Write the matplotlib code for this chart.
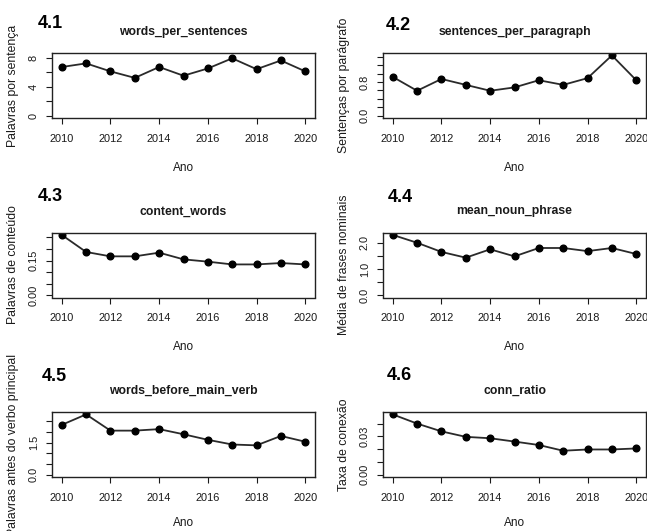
import matplotlib
matplotlib.use('Agg')
import matplotlib.pyplot as plt

plt.rcParams['font.family'] = ['Liberation Sans', 'DejaVu Sans']

years = [2010, 2011, 2012, 2013, 2014, 2015, 2016, 2017, 2018, 2019, 2020]

words_per_sentences = [6.7, 7.2, 6.1, 5.2, 6.7, 5.5, 6.5, 7.9, 6.4, 7.6, 6.1]
sentences_per_paragraph = [0.92, 0.59, 0.87, 0.73, 0.59, 0.67, 0.84, 0.73, 0.89, 1.43, 0.84]
content_words = [0.261, 0.187, 0.168, 0.168, 0.184, 0.155, 0.145, 0.133, 0.133, 0.139, 0.133]
mean_noun_phrase = [2.30, 2.00, 1.65, 1.43, 1.75, 1.48, 1.80, 1.80, 1.68, 1.80, 1.57]
words_before_main_verb = [2.33, 2.82, 2.06, 2.06, 2.13, 1.89, 1.63, 1.41, 1.37, 1.81, 1.54]
conn_ratio = [0.0472, 0.0400, 0.0339, 0.0296, 0.0285, 0.0259, 0.0232, 0.0187, 0.0197, 0.0197, 0.0205]

series = [words_per_sentences, sentences_per_paragraph, content_words,
          mean_noun_phrase, words_before_main_verb, conn_ratio]
titles = ['words_per_sentences', 'sentences_per_paragraph', 'content_words',
          'mean_noun_phrase', 'words_before_main_verb', 'conn_ratio']
numbers = ['4.1', '4.2', '4.3', '4.4', '4.5', '4.6']
ylabels = ['Palavras por sentença', 'Sentenças por parágrafo', 'Palavras de conteúdo',
           'Média de frases nominais', 'Palavras antes do verbo principal', 'Taxa de conexão']

# y ticks of each panel, and the ones R kept a label for
yticks = [[0, 2, 4, 6, 8],
          [0.0, 0.2, 0.4, 0.6, 0.8, 1.0, 1.2, 1.4],
          [0.0, 0.05, 0.10, 0.15, 0.20, 0.25],
          [0.0, 0.5, 1.0, 1.5, 2.0],
          [0.0, 0.5, 1.0, 1.5, 2.0, 2.5],
          [0.0, 0.01, 0.02, 0.03, 0.04]]
ylabeled = [{0: '0', 4: '4', 8: '8'},
            {0.0: '0.0', 0.8: '0.8'},
            {0.0: '0.00', 0.15: '0.15'},
            {0.0: '0.0', 1.0: '1.0', 2.0: '2.0'},
            {0.0: '0.0', 1.5: '1.5'},
            {0.0: '0.00', 0.03: '0.03'}]
ytops = [8.3, None, None, None, None, None]

W, H = 647, 531
fig = plt.figure(figsize=(W / 100, H / 100), dpi=100)

col_left = [52, 383]
box_w = 263
row_top = [53, 232.5, 412]
box_h = 65
xlab_y = [-0.67, -0.67, -0.62]
num_pos = [(38, 23), (386, 25.5), (38, 196.5), (388, 198), (42, 376.5), (387, 375)]

ink = '#1a1a1a'

for i in range(6):
    r, c = divmod(i, 2)
    left = col_left[c] / W
    bottom = 1 - (row_top[r] + box_h) / H
    ax = fig.add_axes([left, bottom, box_w / W, box_h / H])

    vals = series[i]
    ax.plot(years, vals, color='#2a2a2a', lw=1.3, marker='o', ms=4.8,
            mfc='black', mec='black')

    top = ytops[i] if ytops[i] is not None else max(vals)
    pad = 0.04 * top
    ax.set_ylim(-pad, top + pad)
    ax.set_xlim(2010 - 0.4, 2020 + 0.4)

    ax.set_xticks([2010, 2012, 2014, 2016, 2018, 2020])
    ax.set_yticks(yticks[i])
    labs = []
    for t in yticks[i]:
        lab = ''
        for k, v in ylabeled[i].items():
            if abs(k - t) < 1e-9:
                lab = v
        labs.append(lab)
    ax.set_yticklabels(labs, rotation=90, va='center')

    ax.tick_params(axis='both', direction='out', length=4.5, width=0.8,
                   labelsize=7.9, colors=ink)
    ax.tick_params(axis='x', pad=7)
    ax.tick_params(axis='y', pad=5)
    for s in ax.spines.values():
        s.set_linewidth(1.0)
        s.set_color('#222222')

    ax.set_title(titles[i], fontsize=8.8, fontweight='bold', pad=13, color=ink)
    ax.set_xlabel('Ano', fontsize=8.5, color=ink)
    ax.xaxis.set_label_coords(0.5, xlab_y[r])
    ax.set_ylabel(ylabels[i], fontsize=8.8, color=ink)
    ax.yaxis.set_label_coords(-0.125, 0.5)

    nx, ny = num_pos[i]
    fig.text(nx / W, 1 - ny / H, numbers[i], fontsize=13, fontweight='bold',
             ha='left', va='center', color='black')

fig.savefig('out.png', dpi=100)
